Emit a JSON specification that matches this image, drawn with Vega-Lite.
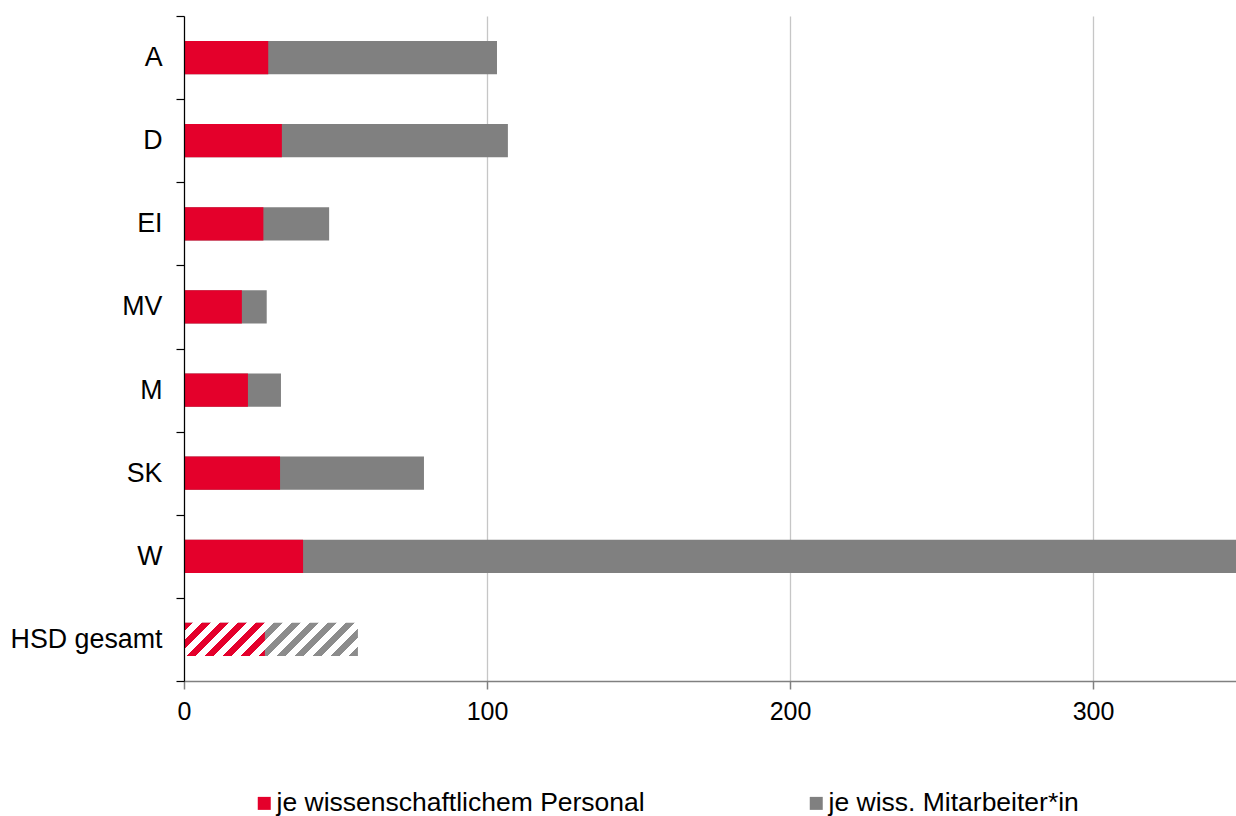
{
  "$schema": "https://vega.github.io/schema/vega-lite/v6.json",
  "width": 1052,
  "height": 665,
  "autosize": {"type": "none"},
  "padding": {"left": 184, "top": 16, "right": 0, "bottom": 135},
  "background": "white",
  "config": {"view": {"stroke": null}, "font": "Liberation Sans"},
  "data": {
    "values": [
      {"cat": "A", "personal": 27.8, "mitarbeiter": 103.3},
      {"cat": "D", "personal": 32.3, "mitarbeiter": 106.9},
      {"cat": "EI", "personal": 26.2, "mitarbeiter": 47.9},
      {"cat": "MV", "personal": 19.1, "mitarbeiter": 27.3},
      {"cat": "M", "personal": 21.1, "mitarbeiter": 32.0},
      {"cat": "SK", "personal": 31.7, "mitarbeiter": 79.2},
      {"cat": "W", "personal": 39.3, "mitarbeiter": 360},
      {"cat": "HSD gesamt", "personal": 26.7, "mitarbeiter": 57.4}
    ]
  },
  "encoding": {
    "y": {
      "field": "cat",
      "type": "nominal",
      "scale": {"domain": ["A", "D", "EI", "MV", "M", "SK", "W", "HSD gesamt"], "paddingInner": 0, "paddingOuter": 0},
      "axis": {
        "title": null,
        "domainColor": "#000000",
        "domainWidth": 1.2,
        "tickColor": "#000000",
        "tickWidth": 1.2,
        "tickSize": 8,
        "tickBand": "extent",
        "labelFontSize": 26.8,
        "labelColor": "#000000",
        "labelPadding": 14,
        "grid": false,
        "zindex": 1
      }
    }
  },
  "layer": [
    {
      "transform": [{"filter": "datum.cat !== 'HSD gesamt'"}],
      "mark": {"type": "bar", "clip": true, "height": {"band": 0.4}},
      "encoding": {
        "x": {
          "field": "mitarbeiter",
          "type": "quantitative",
          "stack": null,
          "scale": {"domain": [0, 347.2], "nice": false, "zero": true},
          "axis": {
            "title": null,
            "values": [0, 100, 200, 300],
            "grid": true,
            "gridColor": "#c6c6c6",
            "gridWidth": 1.3,
            "domainColor": "#808080",
            "domainWidth": 1.5,
            "tickColor": "#808080",
            "tickWidth": 1.5,
            "tickSize": 8,
            "labelFontSize": 25,
            "labelColor": "#000000",
            "labelPadding": 10,
            "labelFlush": false
          }
        },
        "color": {
          "datum": "je wiss. Mitarbeiter*in",
          "type": "nominal",
          "scale": {"domain": ["je wissenschaftlichem Personal", "je wiss. Mitarbeiter*in"], "range": ["#E4002B", "#808080"]},
          "legend": {
            "orient": "none",
            "legendX": 67,
            "legendY": 774,
            "direction": "horizontal",
            "title": null,
            "symbolType": "square",
            "symbolSize": 169,
            "symbolStrokeWidth": 0,
            "symbolOpacity": 1,
            "labelFontSize": 26.5,
            "labelColor": "#000000",
            "labelLimit": 600,
            "labelOffset": -1,
            "columnPadding": 158,
            "padding": 0
          }
        }
      }
    },
    {
      "transform": [{"filter": "datum.cat !== 'HSD gesamt'"}],
      "mark": {"type": "bar", "clip": true, "height": {"band": 0.4}},
      "encoding": {
        "x": {"field": "personal", "type": "quantitative", "stack": null},
        "color": {"datum": "je wissenschaftlichem Personal", "type": "nominal"}
      }
    },
    {
      "transform": [{"filter": "datum.cat === 'HSD gesamt'"}],
      "mark": {
        "type": "bar",
        "clip": true,
        "height": {"band": 0.4},
        "fill": {
          "gradient": "linear",
          "x1": 0, "y1": 0, "x2": 1.149, "y2": 0.2195,
          "stops": [
            {"offset": 0, "color": "#8c8c8c"}, {"offset": 0.0434, "color": "#8c8c8c"},
            {"offset": 0.0434, "color": "#ffffff"}, {"offset": 0.0868, "color": "#ffffff"},
            {"offset": 0.0868, "color": "#8c8c8c"}, {"offset": 0.1302, "color": "#8c8c8c"},
            {"offset": 0.1302, "color": "#ffffff"}, {"offset": 0.1736, "color": "#ffffff"},
            {"offset": 0.1736, "color": "#8c8c8c"}, {"offset": 0.217, "color": "#8c8c8c"},
            {"offset": 0.217, "color": "#ffffff"}, {"offset": 0.2604, "color": "#ffffff"},
            {"offset": 0.2604, "color": "#8c8c8c"}, {"offset": 0.3038, "color": "#8c8c8c"},
            {"offset": 0.3038, "color": "#ffffff"}, {"offset": 0.3472, "color": "#ffffff"},
            {"offset": 0.3472, "color": "#8c8c8c"}, {"offset": 0.3906, "color": "#8c8c8c"},
            {"offset": 0.3906, "color": "#ffffff"}, {"offset": 0.434, "color": "#ffffff"},
            {"offset": 0.434, "color": "#8c8c8c"}, {"offset": 0.4774, "color": "#8c8c8c"},
            {"offset": 0.4774, "color": "#ffffff"}, {"offset": 0.5208, "color": "#ffffff"},
            {"offset": 0.5208, "color": "#8c8c8c"}, {"offset": 0.5642, "color": "#8c8c8c"},
            {"offset": 0.5642, "color": "#ffffff"}, {"offset": 0.6076, "color": "#ffffff"},
            {"offset": 0.6076, "color": "#8c8c8c"}, {"offset": 0.651, "color": "#8c8c8c"},
            {"offset": 0.651, "color": "#ffffff"}, {"offset": 0.6944, "color": "#ffffff"},
            {"offset": 0.6944, "color": "#8c8c8c"}, {"offset": 0.7378, "color": "#8c8c8c"},
            {"offset": 0.7378, "color": "#ffffff"}, {"offset": 0.7812, "color": "#ffffff"},
            {"offset": 0.7812, "color": "#8c8c8c"}, {"offset": 0.8246, "color": "#8c8c8c"},
            {"offset": 0.8246, "color": "#ffffff"}, {"offset": 0.868, "color": "#ffffff"},
            {"offset": 0.868, "color": "#8c8c8c"}, {"offset": 0.9114, "color": "#8c8c8c"},
            {"offset": 0.9114, "color": "#ffffff"}, {"offset": 0.9548, "color": "#ffffff"},
            {"offset": 0.9548, "color": "#8c8c8c"}, {"offset": 1, "color": "#8c8c8c"}
          ]
        }
      },
      "encoding": {
        "x": {"field": "mitarbeiter", "type": "quantitative", "stack": null}
      }
    },
    {
      "transform": [{"filter": "datum.cat === 'HSD gesamt'"}],
      "mark": {
        "type": "bar",
        "clip": true,
        "height": {"band": 0.4},
        "fill": {
          "gradient": "linear",
          "x1": 0, "y1": 0, "x2": 1.207, "y2": 0.496,
          "stops": [
            {"offset": 0, "color": "#E4002B"}, {"offset": 0.0788, "color": "#E4002B"},
            {"offset": 0.0788, "color": "#ffffff"}, {"offset": 0.1576, "color": "#ffffff"},
            {"offset": 0.1576, "color": "#E4002B"}, {"offset": 0.2364, "color": "#E4002B"},
            {"offset": 0.2364, "color": "#ffffff"}, {"offset": 0.3152, "color": "#ffffff"},
            {"offset": 0.3152, "color": "#E4002B"}, {"offset": 0.394, "color": "#E4002B"},
            {"offset": 0.394, "color": "#ffffff"}, {"offset": 0.4728, "color": "#ffffff"},
            {"offset": 0.4728, "color": "#E4002B"}, {"offset": 0.5516, "color": "#E4002B"},
            {"offset": 0.5516, "color": "#ffffff"}, {"offset": 0.6304, "color": "#ffffff"},
            {"offset": 0.6304, "color": "#E4002B"}, {"offset": 0.7092, "color": "#E4002B"},
            {"offset": 0.7092, "color": "#ffffff"}, {"offset": 0.788, "color": "#ffffff"},
            {"offset": 0.788, "color": "#E4002B"}, {"offset": 0.8668, "color": "#E4002B"},
            {"offset": 0.8668, "color": "#ffffff"}, {"offset": 0.9456, "color": "#ffffff"},
            {"offset": 0.9456, "color": "#E4002B"}, {"offset": 1, "color": "#E4002B"}
          ]
        }
      },
      "encoding": {
        "x": {"field": "personal", "type": "quantitative", "stack": null}
      }
    }
  ]
}
